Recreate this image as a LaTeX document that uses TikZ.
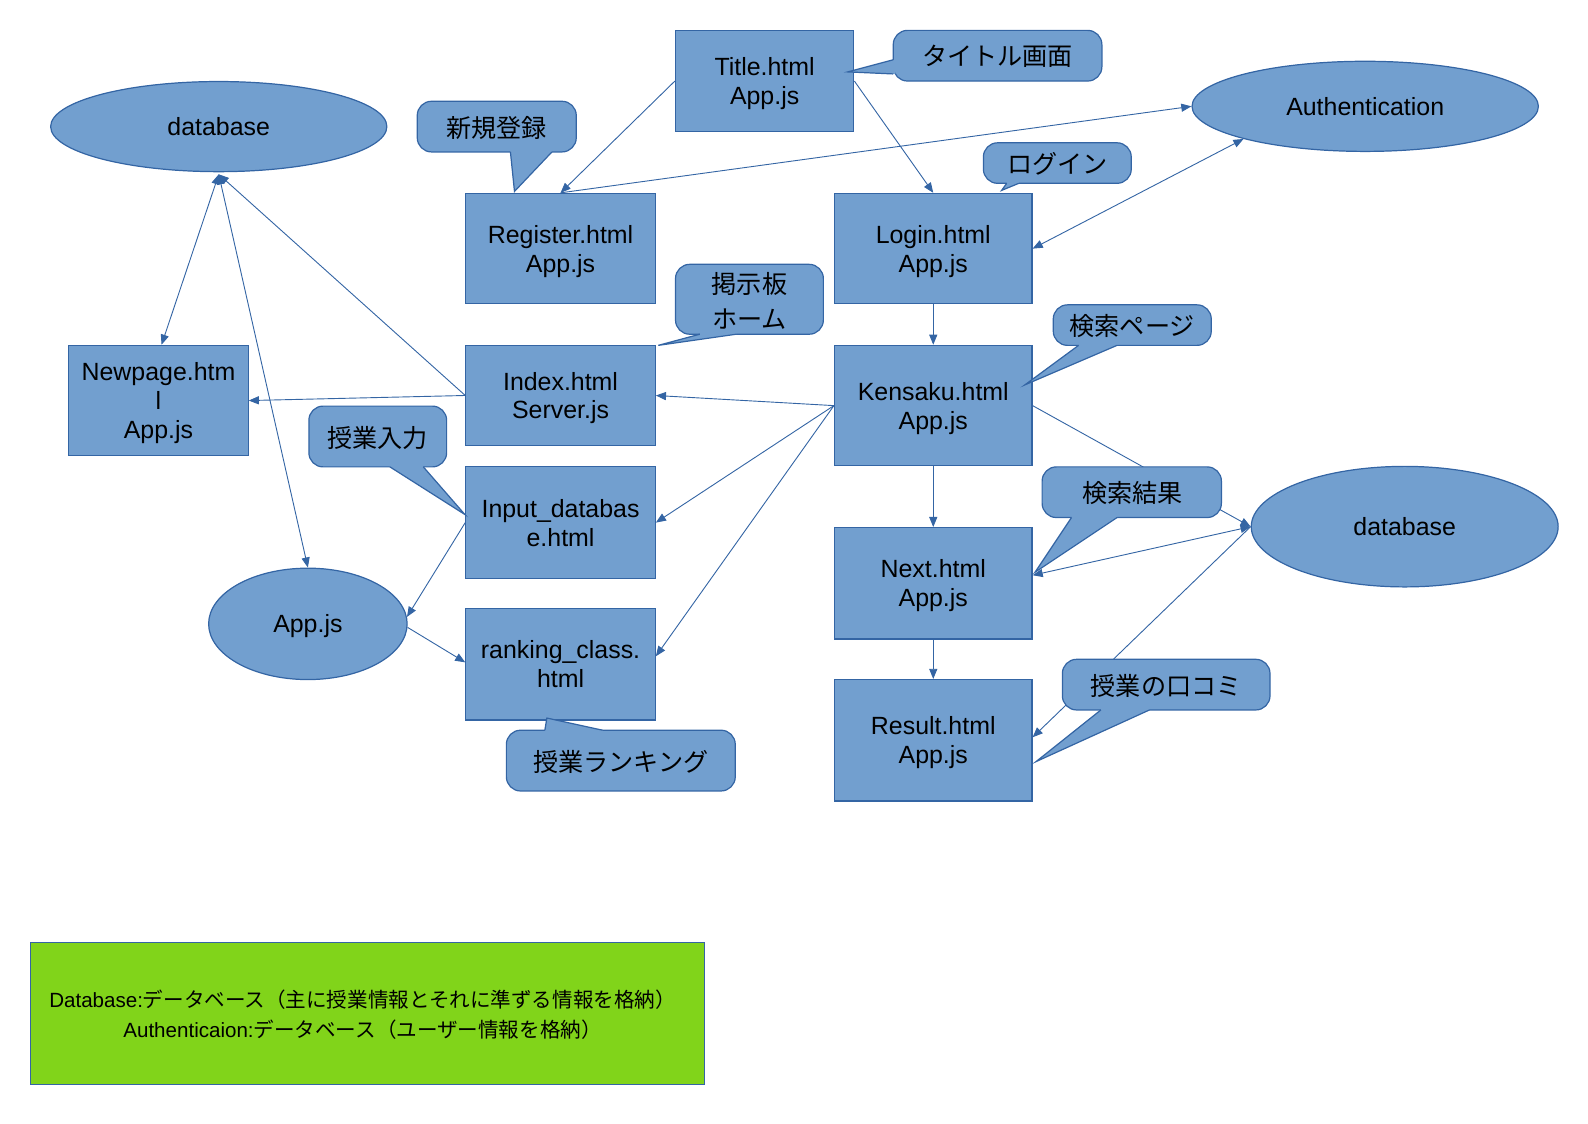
\documentclass[tikz,border=0pt]{standalone}
\usepackage{fontspec}
\setmainfont{Liberation Sans}
\newfontfamily\jpfont{Noto Sans CJK JP}
\usetikzlibrary{shapes.geometric,arrows.meta}
\definecolor{lofill}{HTML}{729FCF}
\definecolor{lobord}{HTML}{3465A4}
\definecolor{logreen}{HTML}{81D41A}
\newcommand{\bxfont}{\fontsize{12.3}{14.3}\selectfont}
\newcommand{\cofont}{\jpfont\fontsize{12.4}{17.5}\selectfont}
\newcommand{\lgfont}{\fontsize{10.15}{15}\selectfont}
% bottom-edge wedge: p1x, p2x, edge y, tip x, tip y
\newcommand{\wedgeB}[5]{%
  \fill[lofill] (#1,#3-2) -- (#1,#3) -- (#4,#5) -- (#2,#3) -- (#2,#3-2) -- cycle;
  \draw[cedge] (#1,#3) -- (#4,#5) -- (#2,#3);}
\tikzset{
  box/.style={rectangle, draw=lobord, fill=lofill, line width=0.6pt, inner sep=0pt, align=center, font=\bxfont, text depth=0pt},
  oval/.style={ellipse, draw=lobord, fill=lofill, line width=0.6pt, inner sep=0pt, font=\bxfont, text depth=0pt},
  conn/.style={draw=lobord, line width=0.45pt, -{Triangle[length=5pt,width=4pt]}},
  bconn/.style={draw=lobord, line width=0.45pt, {Triangle[length=5pt,width=4pt]}-{Triangle[length=5pt,width=4pt]}},
  cbox/.style={draw=lobord, fill=lofill, line width=0.6pt, rounded corners=7pt},
  cedge/.style={draw=lobord, line width=0.6pt, line join=miter},
  ctext/.style={font=\cofont, align=center, inner sep=0pt},
}
\begin{document}
\begin{tikzpicture}[x=0.5pt,y=-0.5pt]
\useasboundingbox (0,0) rectangle (1568,1109);

% ---------- boxes ----------
\node[box, minimum width=88pt, minimum height=50pt] (title) at (755,80) {Title.html\\App.js};
\node[box, minimum width=93.5pt, minimum height=54.5pt] (register) at (553.5,245.5) {Register.html\\App.js};
\node[box, minimum width=97.5pt, minimum height=54.5pt] (login) at (921.5,245.5) {Login.html\\App.js};
\node[box, minimum width=88.5pt, minimum height=54.5pt] (newpage) at (156.5,395.5) {Newpage.htm\\l\\App.js};
\node[box, minimum width=93.5pt, minimum height=49.5pt] (index) at (553.5,390.5) {Index.html\\Server.js};
\node[box, minimum width=97.5pt, minimum height=59.5pt] (kensaku) at (921.5,400.5) {Kensaku.html\\App.js};
\node[box, minimum width=93.5pt, minimum height=55pt] (input) at (553.5,516) {Input\_databas\\e.html};
\node[box, minimum width=93.5pt, minimum height=55pt] (ranking) at (553.5,656) {ranking\_class.\\html};
\node[box, minimum width=97.5pt, minimum height=55pt] (next) at (921.5,576) {Next.html\\App.js};
\node[box, minimum width=97.5pt, minimum height=60pt] (result) at (921.5,731) {Result.html\\App.js};

% ---------- ellipses ----------
\node[oval, minimum width=166pt, minimum height=44.5pt] (dbL) at (216,125) {database};
\node[oval, minimum width=171pt, minimum height=44.5pt] (auth) at (1348,105) {Authentication};
\node[oval, minimum width=98pt, minimum height=55pt] (appjs) at (304,616) {App.js};
\node[oval, minimum width=151.5pt, minimum height=59.5pt] (dbR) at (1387,520) {database};

% ---------- legend ----------
\node[rectangle, draw=lobord, fill=logreen, line width=0.5pt, minimum width=333pt, minimum height=70pt] (legend) at (363,1001) {};
\node[align=center, font=\lgfont, inner sep=0pt] (legendtext) at (358,1002)
  {Database:{\jpfont データベース（主に授業情報とそれに準ずる情報を格納）}\\
   Authenticaion:{\jpfont データベース（ユーザー情報を格納）}};

% ---------- connectors ----------
\draw[conn] (title.west) -- (register.north);
\draw[conn] (title.east) -- (login.north);
\draw[conn] (register.north) -- (auth.west);
\draw[bconn] (login.east) -- (auth.195);
\draw[conn] (login.south) -- (kensaku.north);
\draw[conn] (kensaku.west) -- (index.east);
\draw[conn] (kensaku.west) -- (input.east);
\draw[conn] (kensaku.west) -- ([yshift=4pt]ranking.east);
\draw[conn] (kensaku.south) -- (next.north);
\draw[conn] (next.south) -- (result.north);
\draw[conn] (kensaku.east) -- (dbR.west);
\draw[bconn] ([yshift=4pt]next.east) -- (dbR.west);
\draw[conn] (dbR.west) -- ([yshift=1.5pt]result.east);
\draw[conn] (index.west) -- (newpage.east);
\draw[conn] (index.west) -- ([yshift=-1pt]dbL.south);
\draw[bconn] ([xshift=1.5pt]newpage.north) -- ([yshift=-1pt]dbL.south);
\draw[bconn] (appjs.north) -- ([yshift=-1pt]dbL.south);
\draw[conn] (input.west) -- (appjs.4);
\draw[conn] (appjs.-2) -- ([yshift=1pt]ranking.west);

% ---------- callouts ----------
% タイトル画面 (pointer on left edge)
\draw[cbox] (882,30) rectangle (1088,80);
\fill[lofill] (884,59) -- (882,59) -- (837,71) -- (882,73) -- (884,73) -- cycle;
\draw[cedge] (882,59) -- (837,71) -- (882,73);
\node[ctext] (cTitle) at (985,56) {タイトル画面};

% 新規登録
\draw[cbox] (412,100) rectangle (569,150);
\wedgeB{504}{545}{150}{508}{189}
\node[ctext] (cRegister) at (490.5,126) {新規登録};

% ログイン
\draw[cbox] (971,141) rectangle (1117,181);
\wedgeB{994}{1006}{181}{989}{188}
\node[ctext] (cLogin) at (1044,161.5) {ログイン};

% 掲示板ホーム
\draw[cbox] (667,261) rectangle (813,330);
\wedgeB{691}{727}{330}{650}{341}
\node[ctext] (cIndex) at (740,297) {掲示板\\ホーム};

% 検索ページ
\draw[cbox] (1040,301) rectangle (1196,341);
\wedgeB{1065}{1103}{341}{1012}{380}
\node[ctext] (cKensaku) at (1118,322) {検索ページ};

% 授業入力
\draw[cbox] (305,401) rectangle (441,461);
\wedgeB{385}{418}{461}{459}{508}
\node[ctext] (cInput) at (373,432) {授業入力};

% 検索結果
\draw[cbox] (1029,461) rectangle (1206,511);
\wedgeB{1058}{1103}{511}{1022}{565}
\node[ctext] (cNext) at (1118,487) {検索結果};

% 授業の口コミ
\draw[cbox] (1049,651) rectangle (1254,701);
\wedgeB{1087}{1135}{701}{1023}{752}
\node[ctext] (cResult) at (1151.5,677) {授業の口コミ};

% 授業ランキング (pointer on top edge)
\draw[cbox] (500,721) rectangle (726,781);
\fill[lofill] (538,723) -- (538,721) -- (540,709) -- (595,721) -- (595,723) -- cycle;
\draw[cedge] (538,721) -- (540,709) -- (595,721);
\node[ctext] (cRanking) at (613,752) {授業ランキング};
\end{tikzpicture}
\end{document}
